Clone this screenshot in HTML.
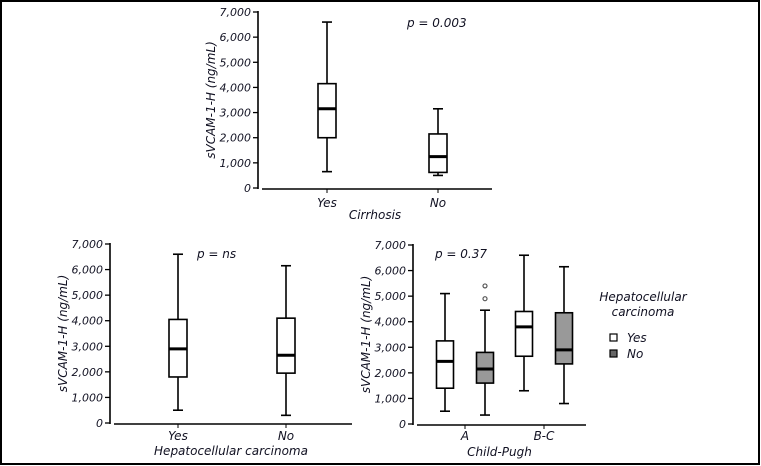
<!DOCTYPE html>
<html><head><meta charset="utf-8"><style>
html,body{margin:0;padding:0;background:#fff}
svg{display:block}
text{font-family:"DejaVu Sans","Liberation Sans",sans-serif;font-style:italic;fill:#111122}
</style></head><body>
<svg id="chart" width="761" height="466" viewBox="0 0 761 466">
<rect x="1" y="1" width="758" height="463" fill="#fff" stroke="#000" stroke-width="2"/>
</svg>
<script>
// Panel A: cirrhosis
const catsA = ["Yes","No"];
const minA = [650,500], q1A = [2000,620], medA = [3150,1250], q3A = [4150,2150], maxA = [6600,3150];
// Panel B: HCC
const catsB = ["Yes","No"];
const minB = [500,300], q1B = [1800,1950], medB = [2900,2650], q3B = [4050,4100], maxB = [6600,6150];
// Panel C: Child-Pugh x HCC
const catsC = ["A","B-C"];
const groupsC = ["Yes","No"];
const minC = [500,350,1300,800], q1C = [1400,1600,2650,2350], medC = [2450,2150,3800,2900], q3C = [3250,2800,4400,4350], maxC = [5100,4450,6600,6150];
const outliersC = [[],[4900,5400],[],[]];
const yTicks = [0,1000,2000,3000,4000,5000,6000,7000];
const yTickLabels = ["0","1,000","2,000","3,000","4,000","5,000","6,000","7,000"];

const svg = document.getElementById('chart');
const NS = "http://www.w3.org/2000/svg";
function mk(tag, attrs, parent){const e=document.createElementNS(NS,tag);for(const k in attrs)e.setAttribute(k,attrs[k]);(parent||svg).appendChild(e);return e;}
function txt(x,y,s,size,anchor,parent){const t=mk('text',{x:x,y:y,'font-size':size,'text-anchor':anchor||'middle'},parent);t.textContent=s;return t;}

function panel(name, ax, y0, y7, xEnd, xTitle, xTitleY, pText, pX, pY){
  const g = mk('g',{});
  
  
  const y = v => y0 - (y0-y7)*v/7000;
  const axis = mk('g',{},g);
  
  
  mk('line',{x1:ax,y1:y7-1,x2:ax,y2:y0+1,stroke:'#000','stroke-width':1.6},axis);
  yTicks.forEach((v,i)=>{
    mk('line',{x1:ax-5,y1:y(v),x2:ax,y2:y(v),stroke:'#000','stroke-width':1.3},axis);
    txt(ax-7,y(v)+4,yTickLabels[i],11,'end',axis);
  });
  const t = txt(0,0,'sVCAM-1-H (ng/mL)',12,'middle',g);
  t.setAttribute('transform','translate('+(ax-43)+','+((y0+y7)/2)+') rotate(-90)');
  t.setAttribute('fill','#3a1a1a');
  
  
  mk('line',{x1:ax+4,y1:y0+1,x2:xEnd,y2:y0+1,stroke:'#000','stroke-width':1.6},g);
  const xt = txt((ax+xEnd)/2,xTitleY,xTitle,12,'middle',g);
  
  
  const pt = txt(pX,pY,pText,12,'start',g);
  
  
  return {g,y};
}

function box(g,y,cx,w,mn,q1,md,q3,mx,fill,name){
  const b = mk('g',{},g);
  
  
  mk('line',{x1:cx,y1:y(mx),x2:cx,y2:y(q3),stroke:'#000','stroke-width':1.6},b);
  mk('line',{x1:cx,y1:y(q1),x2:cx,y2:y(mn),stroke:'#000','stroke-width':1.6},b);
  mk('line',{x1:cx-5,y1:y(mx),x2:cx+5,y2:y(mx),stroke:'#000','stroke-width':1.6},b);
  mk('line',{x1:cx-5,y1:y(mn),x2:cx+5,y2:y(mn),stroke:'#000','stroke-width':1.6},b);
  mk('rect',{x:cx-w/2,y:y(q3),width:w,height:y(q1)-y(q3),fill:fill,stroke:'#000','stroke-width':1.6},b);
  mk('line',{x1:cx-w/2,y1:y(md),x2:cx+w/2,y2:y(md),stroke:'#000','stroke-width':3},b);
}

// Panel A
let P = panel('cirrhosis-panel',258,188,12,492,'Cirrhosis',219,'p = 0.003',407,27);
const xA = [327,438];
catsA.forEach((c,i)=>{
  box(P.g,P.y,xA[i],18,minA[i],q1A[i],medA[i],q3A[i],maxA[i],'#fff','box-cirrhosis-'+c.toLowerCase());
  mk('line',{x1:xA[i],y1:189,x2:xA[i],y2:193,stroke:'#000'},P.g);
  txt(xA[i],207,c,12,'middle',P.g);
});

// Panel B
P = panel('hcc-panel',110,423,244,352,'Hepatocellular carcinoma',455,'p = ns',197,258);
const xB = [178,286];
catsB.forEach((c,i)=>{
  box(P.g,P.y,xB[i],18,minB[i],q1B[i],medB[i],q3B[i],maxB[i],'#fff','box-hcc-'+c.toLowerCase());
  mk('line',{x1:xB[i],y1:424,x2:xB[i],y2:428,stroke:'#000'},P.g);
  txt(xB[i],440,c,12,'middle',P.g);
});

// Panel C
P = panel('child-pugh-panel',413,424,245,586,'Child-Pugh',456,'p = 0.37',435,258);
const xTickC = [465,544];
const offs = [-20,20];
catsC.forEach((c,ci)=>{
  mk('line',{x1:xTickC[ci],y1:425,x2:xTickC[ci],y2:429,stroke:'#000'},P.g);
  txt(xTickC[ci],440,c,12,'middle',P.g);
  groupsC.forEach((gname,gi)=>{
    const k = ci*2+gi, cx = xTickC[ci]+offs[gi];
    box(P.g,P.y,cx,17,minC[k],q1C[k],medC[k],q3C[k],maxC[k],gi?'#999':'#fff','box-'+c.toLowerCase()+'-'+gname.toLowerCase());
    outliersC[k].forEach(v=>{
      const o = mk('circle',{cx:cx,cy:P.y(v),r:2,fill:'#fff',stroke:'#555','stroke-width':1.2},P.g);
      
      
    });
  });
});

// Legend
const L = mk('g',{});


txt(643,301,'Hepatocellular',12,'middle',L);
txt(643,316,'carcinoma',12,'middle',L);
groupsC.forEach((gname,gi)=>{
  const e = mk('g',{},L);
  
  
  const yy = 338+gi*16;
  mk('rect',{x:610,y:yy-4,width:7,height:7,fill:gi?'#666':'#fff',stroke:'#000','stroke-width':1.2},e);
  txt(627,yy+4,gname,12,'start',e);
});
</script>
</body></html>
